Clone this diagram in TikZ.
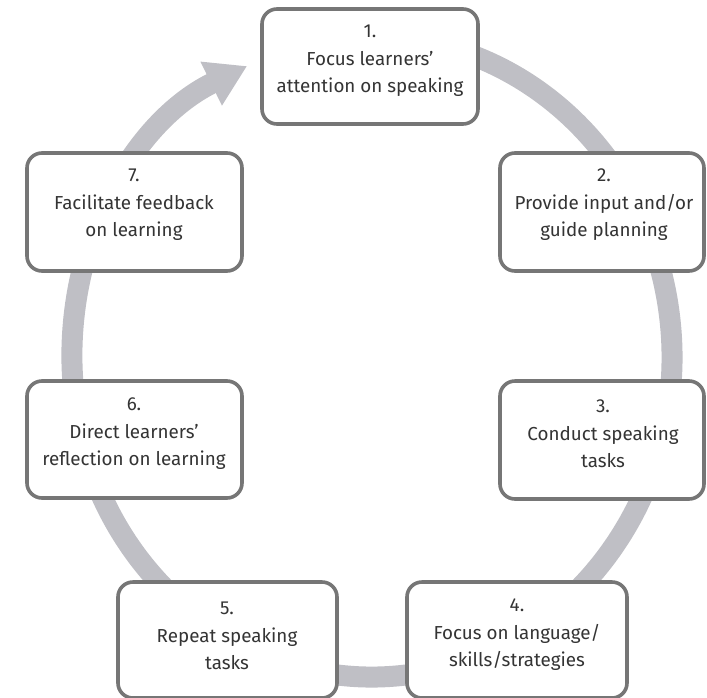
\documentclass[tikz,border=0pt]{standalone}
\usepackage{fontspec}
\setmainfont{Fira Sans}
\usetikzlibrary{arrows.meta}
\definecolor{ringgray}{RGB}{191,191,197}
\definecolor{boxedge}{RGB}{118,118,118}
\definecolor{txtgray}{RGB}{52,52,52}
\tikzset{
  stagebox/.style={draw=boxedge, line width=3.6pt, fill=white, rounded corners=15pt, inner sep=0pt},
  stagetext/.style={align=center, text=txtgray, font=\fontsize{18.8}{27.5}\selectfont, inner sep=0pt},
  cycle ring/.style={draw=ringgray, line width=21pt, -{Triangle[width=46pt,length=40pt]}}
}
\begin{document}
\begin{tikzpicture}[x=1pt,y=-1pt]
\useasboundingbox (0,0) rectangle (707,697);
\clip (0,0) rectangle (707,697);

% the cycle ring, ending in an arrow pointing at the first stage
\coordinate (ringstart) at ({372+300*cos(-100)},{357+320*sin(-100)});
\draw[cycle ring] (ringstart) arc[start angle=-100, end angle=245.4, x radius=300, y radius=320];

% stage boxes
\node[stagebox, minimum width=216pt, minimum height=115pt] (b1) at (370,66.5) {};
\node[stagebox, minimum width=204pt, minimum height=118pt] (b2) at (602,212) {};
\node[stagebox, minimum width=204pt, minimum height=118pt] (b3) at (602,440) {};
\node[stagebox, minimum width=220pt, minimum height=116pt] (b4) at (517,640) {};
\node[stagebox, minimum width=219pt, minimum height=116pt] (b5) at (227.5,640) {};
\node[stagebox, minimum width=215pt, minimum height=117pt] (b6) at (134.5,439.5) {};
\node[stagebox, minimum width=215pt, minimum height=118pt] (b7) at (134.5,212) {};

% stage labels
\node[stagetext] (t1) at (370,61) {1.\\Focus learners’\\attention on speaking};
\node[stagetext] (t2) at (604,205) {2.\\Provide input and/or\\guide planning};
\node[stagetext] (t3) at (603,434) {3.\\Conduct speaking\\tasks};
\node[stagetext] (t4) at (517,635) {4.\\Focus on language/\\skills/strategies};
\node[stagetext] (t5) at (227,636) {5.\\Repeat speaking\\tasks};
\node[stagetext] (t6) at (134,434) {6.\\Direct learners’\\reflection on learning};
\node[stagetext] (t7) at (134,205) {7.\\Facilitate feedback\\on learning};
\end{tikzpicture}
\end{document}
